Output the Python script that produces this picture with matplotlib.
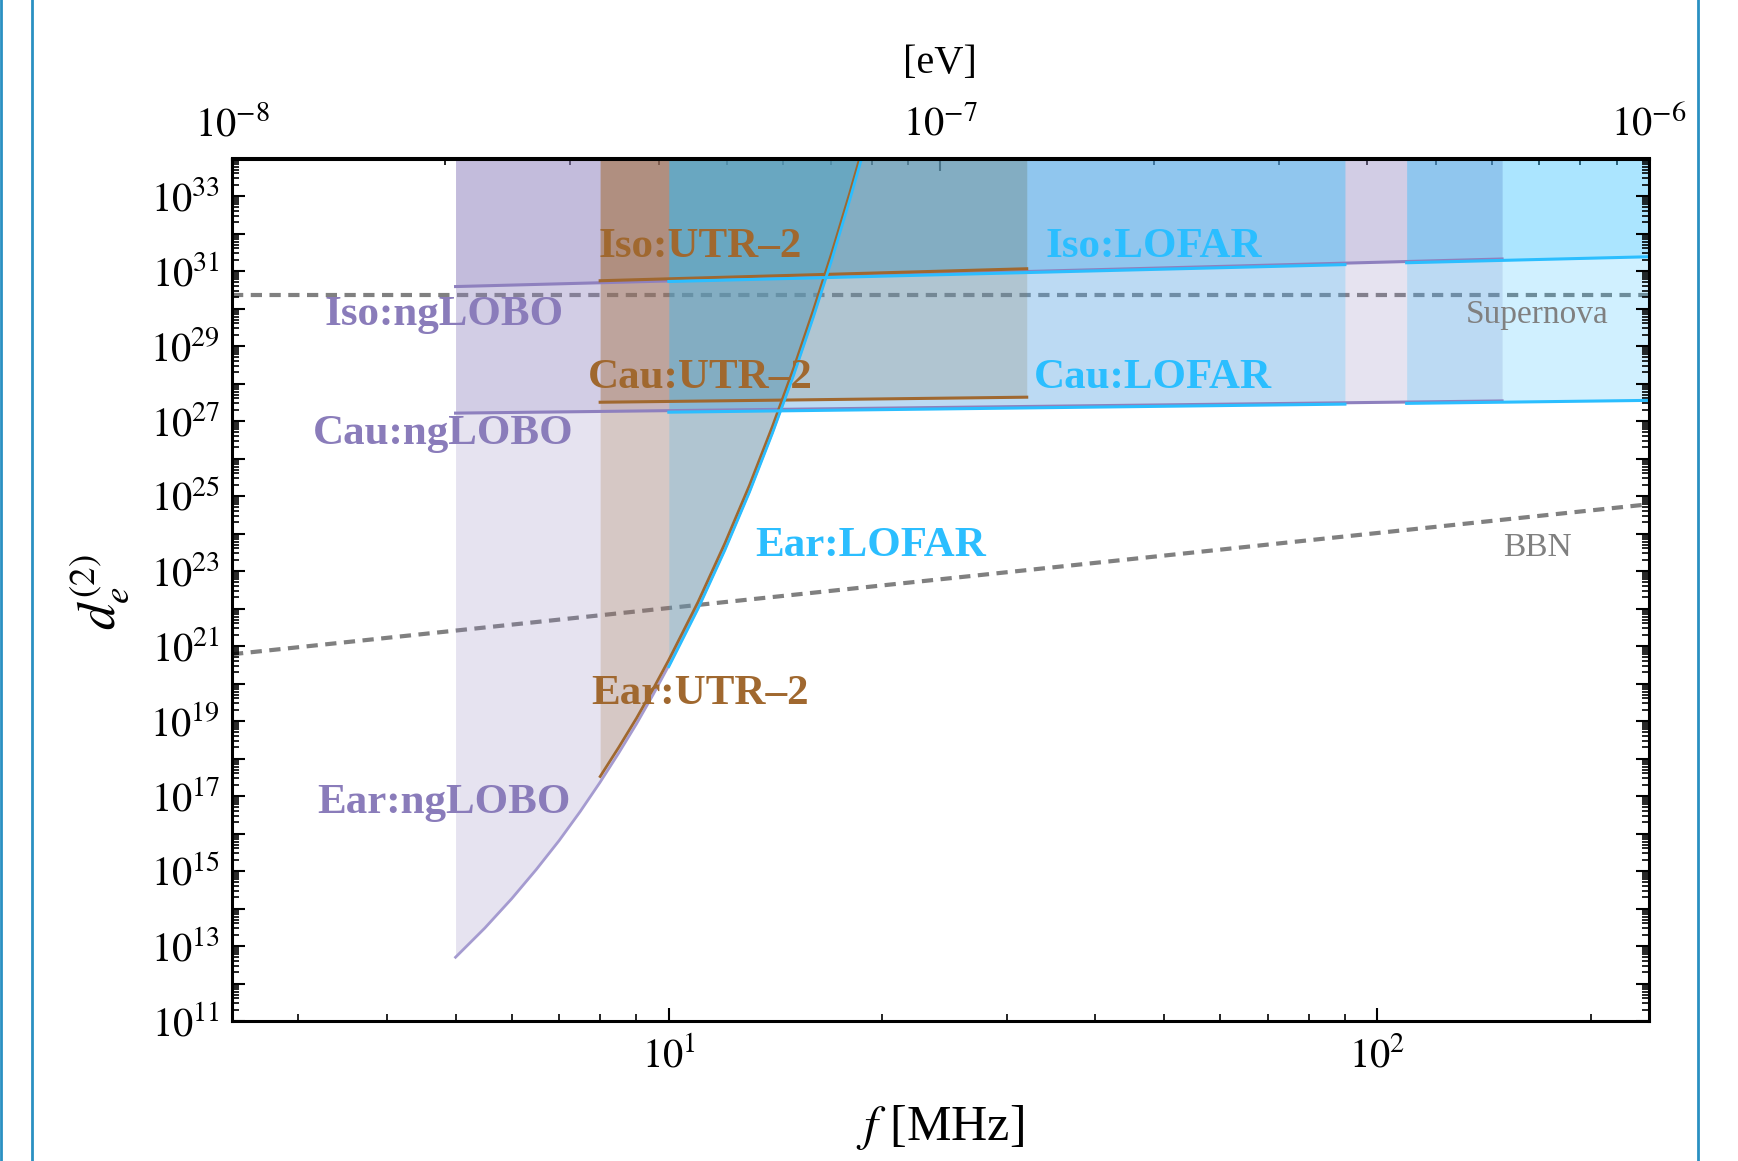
import numpy as np
import matplotlib
matplotlib.use('Agg')
import matplotlib.pyplot as plt
from matplotlib.ticker import LogLocator, FuncFormatter, NullFormatter, FixedLocator
from matplotlib.lines import Line2D

plt.rcParams['font.family'] = ['Liberation Serif', 'DejaVu Serif']
plt.rcParams['mathtext.fontset'] = 'stix'

# frequency bands [MHz]
nglobo_band = [5.0, 150.0]
utr2_band = [8.0, 32.0]
lofar_bands = [[10.0, 90.0], [110.0, 242.0]]

# log10 d_e^(2) limits at band edges
nglobo_iso = [30.585, 31.32]
nglobo_cau = [27.21, 27.535]
utr2_iso = [30.74, 31.06]
utr2_cau = [27.50, 27.635]
lofar_iso = [[30.72, 31.17], [31.22, 31.38]]
lofar_cau = [[27.235, 27.45], [27.47, 27.55]]

# earth-bound curves (f [MHz], log10 d)
nglobo_ear_f = [5.0, 5.5, 6.0, 6.5, 7.0, 7.5, 8.0, 8.5, 9.0, 9.5, 10.0, 11.0,
                12.0, 13.0, 14.0, 15.0, 16.0, 17.0, 18.0, 19.0]
nglobo_ear = [12.70, 13.48, 14.26, 15.04, 15.81, 16.59, 17.37, 18.15, 18.92,
              19.70, 20.48, 22.03, 23.59, 25.14, 26.70, 28.25, 29.81, 31.36,
              32.92, 34.47]
utr2_ear_f = [8.0, 8.5, 9.0, 9.5, 10.0, 11.0, 12.0, 13.0, 14.0, 15.0, 16.0,
              17.0, 18.0, 19.0]
utr2_ear = [17.52, 18.30, 19.07, 19.85, 20.63, 22.18, 23.74, 25.29, 26.85,
            28.40, 29.96, 31.51, 33.07, 34.62]
lofar_ear_f = [10.0, 11.0, 12.0, 13.0, 14.0, 15.0, 16.0, 17.0, 18.0, 19.0]
lofar_ear = [20.45, 22.00, 23.56, 25.11, 26.67, 28.22, 29.78, 31.33, 32.89, 34.44]

# astrophysical bounds
sn_d = [30.37, 30.37]
bbn_d = [20.78, 24.78]

ev_ticks = [1e-8, 1e-7, 1e-6]

c_ng = '#8E80BE'
c_utr = '#A0682F'
c_lof = '#2BBEFF'
t_ng = '#8A7CBA'
grey = '#808080'
A = 0.22
top = 1e34
h_ev = 4.135667e-9  # eV per MHz
f_lo, f_hi = 1e-8 / h_ev, 1e-6 / h_ev

fig = plt.figure(figsize=(17.38, 11.61), dpi=100)
ax = fig.add_axes([232/1738, 1-1021/1161, 1417/1738, 862.5/1161])
ax.set_xscale('log')
ax.set_yscale('log')

# dashed bounds (under the fills)
ax.plot([f_lo, f_hi], 10**np.array(sn_d), color=grey, lw=3.0, dashes=(2.7, 1.8), zorder=0.5)
ax.plot([f_lo, f_hi], 10**np.array(bbn_d), color=grey, lw=3.0, dashes=(2.7, 1.8), zorder=0.5)


def instrument(band, iso, cau, ef, ed, col, ear=True, ear_col=None):
    b = np.array(band)
    ax.fill_between(b, 10**np.array(iso), top, color=col, alpha=A, lw=0)
    ax.fill_between(b, 10**np.array(cau), top, color=col, alpha=A, lw=0)
    if ear:
        ax.fill_between(ef, 10**np.array(ed), top, color=col, alpha=A, lw=0)
    ax.plot(b, 10**np.array(iso), color=col, lw=2.2)
    ax.plot(b, 10**np.array(cau), color=col, lw=2.2)
    if ear:
        ax.plot(ef, 10**np.array(ed), color=ear_col or col, lw=2.0, solid_joinstyle='round')


instrument(nglobo_band, nglobo_iso, nglobo_cau, nglobo_ear_f, nglobo_ear, c_ng, ear_col='#A59BD0')
instrument(utr2_band, utr2_iso, utr2_cau, utr2_ear_f, utr2_ear, c_utr)
instrument(lofar_bands[0], lofar_iso[0], lofar_cau[0], lofar_ear_f, lofar_ear, c_lof)
instrument(lofar_bands[1], lofar_iso[1], lofar_cau[1], None, None, c_lof, ear=False)

ax.set_xlim(f_lo, f_hi)
ax.set_ylim(1e11, 1e34)

# labels
lab = dict(fontsize=31, fontweight='bold', ha='center', va='center', zorder=5)
ax.text(4.81, 10**29.84, 'Iso:ngLOBO', color=t_ng, **lab)
ax.text(4.81, 10**26.65, 'Cau:ngLOBO', color=t_ng, **lab)
ax.text(4.81, 10**16.82, 'Ear:ngLOBO', color=t_ng, **lab)
ax.text(11.06, 10**31.64, 'Iso:UTR\u20132', color=c_utr, **lab)
ax.text(11.06, 10**28.16, 'Cau:UTR\u20132', color=c_utr, **lab)
ax.text(11.06, 10**19.71, 'Ear:UTR\u20132', color=c_utr, **lab)
ax.text(48.3, 10**31.64, 'Iso:LOFAR', color=c_lof, **lab)
ax.text(48.3, 10**28.16, 'Cau:LOFAR', color=c_lof, **lab)
ax.text(19.27, 10**23.67, 'Ear:LOFAR', color=c_lof, **lab)
ax.text(168.1, 10**29.84, 'Supernova', color=grey, fontsize=24, ha='center', va='center')
ax.text(168.1, 10**23.61, 'BBN', color=grey, fontsize=24, ha='center', va='center')

# ticks
pw = lambda v, pos: r'$10^{%d}$' % int(round(np.log10(v)))
odd = lambda v, pos: (r'$10^{%d}$' % int(round(np.log10(v)))) if int(round(np.log10(v))) % 2 else ''

ax.xaxis.set_major_locator(LogLocator(base=10, numticks=20))
ax.xaxis.set_minor_locator(LogLocator(base=10, subs=np.arange(2, 10), numticks=20))
ax.xaxis.set_major_formatter(FuncFormatter(pw))
ax.xaxis.set_minor_formatter(NullFormatter())
ax.yaxis.set_major_locator(LogLocator(base=10, numticks=40))
ax.yaxis.set_minor_locator(LogLocator(base=10, subs=np.arange(2, 10), numticks=40))
ax.yaxis.set_major_formatter(FuncFormatter(odd))
ax.yaxis.set_minor_formatter(NullFormatter())

ax.tick_params(which='both', direction='in', top=False, right=True, labelsize=29)
ax.tick_params(which='major', length=9.5, width=1.5)
ax.tick_params(which='minor', length=5, width=1.2)
ax.tick_params(axis='x', pad=12)
ax.tick_params(axis='y', pad=8.5)
for s in ax.spines.values():
    s.set_linewidth(2.2)

sec = ax.secondary_xaxis('top', functions=(lambda f: f * h_ev, lambda e: e / h_ev))
sec.xaxis.set_major_locator(FixedLocator(ev_ticks))
sec.xaxis.set_minor_locator(LogLocator(base=10, subs=np.arange(2, 10), numticks=20))
sec.xaxis.set_major_formatter(FuncFormatter(pw))
sec.xaxis.set_minor_formatter(NullFormatter())
sec.tick_params(which='both', direction='in', labelsize=29, pad=10)
sec.tick_params(which='major', length=9.5, width=1.5)
sec.tick_params(which='minor', length=5, width=1.2)
sec.spines['top'].set_linewidth(2.2)

fig.text(940/1738, 1-64/1161, '[eV]', fontsize=29, ha='center', va='center')
fig.text(940/1738, 1-1128/1161, '$f$ [MHz]', fontsize=36, ha='center', va='center')
fig.text(100/1738, 1-592/1161, '$d_e^{(2)}$', fontsize=38, rotation=90, ha='center', va='center')

# frame lines
for x in [1.0, 32.0, 1698.0]:
    fig.add_artist(Line2D([x/1738, x/1738], [0, 1], transform=fig.transFigure,
                          color='#2A90C2', lw=2.0))

fig.savefig('out.png', dpi=100)
